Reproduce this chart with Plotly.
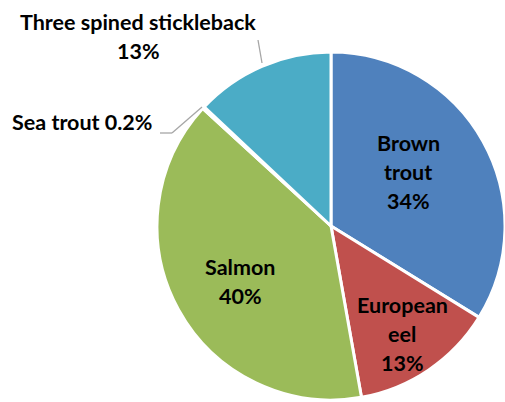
import plotly.graph_objects as go

species = ["Brown trout", "European eel", "Salmon", "Sea trout", "Three spined stickleback"]
shares = [33.8, 13.4, 39.6, 0.2, 13.0]
colors = ["#4F81BD", "#C0504D", "#9BBB59", "#8064A2", "#4BACC6"]

W, H = 505, 402
total = sum(shares)

def pct(v):
    p = v / total * 100
    return f"{p:.1f}%" if p < 1 else f"{round(p):.0f}%"

fig = go.Figure(go.Pie(
    labels=species, values=shares, sort=False, direction="clockwise", rotation=0,
    marker=dict(colors=colors, line=dict(color="white", width=3)),
    textinfo="none", hoverinfo="label+percent", showlegend=False,
    domain=dict(x=[157 / W, 1.0], y=[0 / H, 352 / H]),
))

font = dict(family="Lato, Calibri, Carlito, sans-serif", size=21.5, color="black")

# label layout: (lines, center x px, first line y px)
label_specs = [
    (["Brown", "trout", pct(shares[0])], 408, 143),
    (["European", "eel", pct(shares[1])], 402, 305),
    (["Salmon", pct(shares[2])], 240, 267),
    ([f"Sea trout {pct(shares[3])}"], 82, 122),
    (["Three spined stickleback", pct(shares[4])], 138, 22),
]
line_h = 29
anns = []
for lines, cx, y0 in label_specs:
    for i, t in enumerate(lines):
        anns.append(dict(text=f"<b>{t}</b>", x=cx / W, y=1 - (y0 + i * line_h) / H,
                         xref="paper", yref="paper", xanchor="center", yanchor="middle",
                         showarrow=False, font=font))

def px(x, y):
    return x / W, 1 - y / H

shapes = []
for (x0, y0), (x1, y1) in [((258, 40), (262, 63)), ((160, 133), (172, 133)), ((172, 133), (202, 107))]:
    a, b = px(x0, y0)
    c, d = px(x1, y1)
    shapes.append(dict(type="line", xref="paper", yref="paper", x0=a, y0=b, x1=c, y1=d,
                       line=dict(color="#A6A6A6", width=1.3)))

fig.update_layout(width=W, height=H, margin=dict(l=0, r=0, t=0, b=0),
                  paper_bgcolor="white", plot_bgcolor="white",
                  annotations=anns, shapes=shapes)
fig.write_html("out.html", config={"displayModeBar": False},
               post_script="document.body.style.margin='0';")
